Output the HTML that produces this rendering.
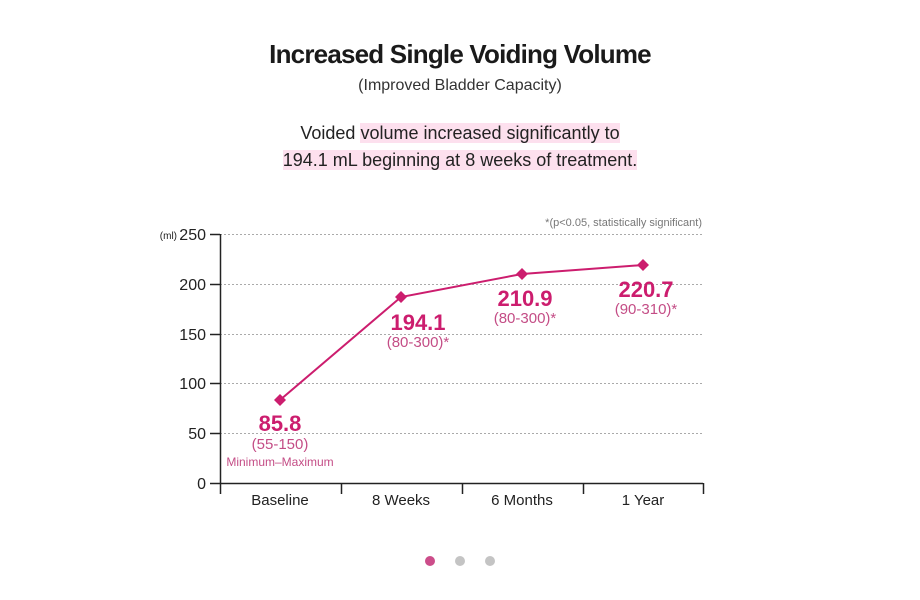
<!DOCTYPE html>
<html><head><meta charset="utf-8"><style>
body{margin:0;background:#fff;font-family:"Liberation Sans",Arial,sans-serif;}
.w{position:relative;width:920px;height:600px;overflow:hidden}
.t{position:absolute;left:0;width:920px;text-align:center;color:#1a1a1a}
.hl{background:#fde0ee}
</style></head><body><div class="w">
<div class="t" style="top:39px;font-size:26px;font-weight:bold;letter-spacing:-0.8px">Increased Single Voiding Volume</div>
<div class="t" style="top:77px;font-size:16px;color:#333">(Improved Bladder Capacity)</div>
<div class="t" style="top:120px;font-size:18px;line-height:27px;color:#222">Voided <span class="hl">volume increased significantly to</span><br><span class="hl">194.1 mL beginning at 8 weeks of treatment.</span></div>
<svg width="920" height="600" style="position:absolute;left:0;top:0" font-family="Liberation Sans, Arial, sans-serif">
<text x="702" y="226" font-size="11" fill="#777" text-anchor="end">*(p&lt;0.05, statistically significant)</text>
<g stroke="#aaa" stroke-dasharray="2,2" stroke-width="1">
<line x1="220" x2="703" y1="234.5" y2="234.5"/><line x1="220" x2="703" y1="284.5" y2="284.5"/>
<line x1="220" x2="703" y1="334.5" y2="334.5"/><line x1="220" x2="703" y1="383.5" y2="383.5"/>
<line x1="220" x2="703" y1="433.5" y2="433.5"/></g>
<g stroke="#222" stroke-width="1.5">
<line x1="220.5" x2="220.5" y1="234" y2="494"/><line x1="210" x2="703" y1="483.5" y2="483.5"/>
<line x1="210" x2="220" y1="234.5" y2="234.5"/><line x1="210" x2="220" y1="284.5" y2="284.5"/>
<line x1="210" x2="220" y1="334.5" y2="334.5"/><line x1="210" x2="220" y1="383.5" y2="383.5"/>
<line x1="210" x2="220" y1="433.5" y2="433.5"/>
<line x1="341.5" x2="341.5" y1="483" y2="494"/><line x1="462.5" x2="462.5" y1="483" y2="494"/>
<line x1="583.5" x2="583.5" y1="483" y2="494"/><line x1="703.5" x2="703.5" y1="483" y2="494"/></g>
<g font-size="16" fill="#222" text-anchor="end">
<text x="206" y="240">250</text><text x="206" y="290">200</text><text x="206" y="340">150</text>
<text x="206" y="389">100</text><text x="206" y="439">50</text><text x="206" y="489">0</text></g>
<text x="177" y="239" font-size="10" fill="#222" text-anchor="end">(ml)</text>
<g font-size="15" fill="#222" text-anchor="middle">
<text x="280" y="505">Baseline</text><text x="401" y="505">8 Weeks</text>
<text x="522" y="505">6 Months</text><text x="643" y="505">1 Year</text></g>
<polyline points="280,400 401,297 522,274 643,265" fill="none" stroke="#cc1d6e" stroke-width="2"/>
<g fill="#cc1d6e">
<path d="M280,394 l6,6 l-6,6 l-6,-6z"/><path d="M401,291 l6,6 l-6,6 l-6,-6z"/>
<path d="M522,268 l6,6 l-6,6 l-6,-6z"/><path d="M643,259 l6,6 l-6,6 l-6,-6z"/></g>
<g text-anchor="middle">
<text x="280" y="431" font-size="22" font-weight="bold" fill="#cc1d6e">85.8</text>
<text x="280" y="449" font-size="15" fill="#c44d86">(55-150)</text>
<text x="280" y="466" font-size="12" fill="#c44d86">Minimum–Maximum</text>
<text x="418" y="330" font-size="22" font-weight="bold" fill="#cc1d6e">194.1</text>
<text x="418" y="347" font-size="15" fill="#c44d86">(80-300)*</text>
<text x="525" y="306" font-size="22" font-weight="bold" fill="#cc1d6e">210.9</text>
<text x="525" y="323" font-size="15" fill="#c44d86">(80-300)*</text>
<text x="646" y="297" font-size="22" font-weight="bold" fill="#cc1d6e">220.7</text>
<text x="646" y="314" font-size="15" fill="#c44d86">(90-310)*</text></g>
<circle cx="430" cy="561" r="5" fill="#cc4d8a"/><circle cx="460" cy="561" r="5" fill="#c4c4c4"/><circle cx="490" cy="561" r="5" fill="#c4c4c4"/>
</svg></div></body></html>
